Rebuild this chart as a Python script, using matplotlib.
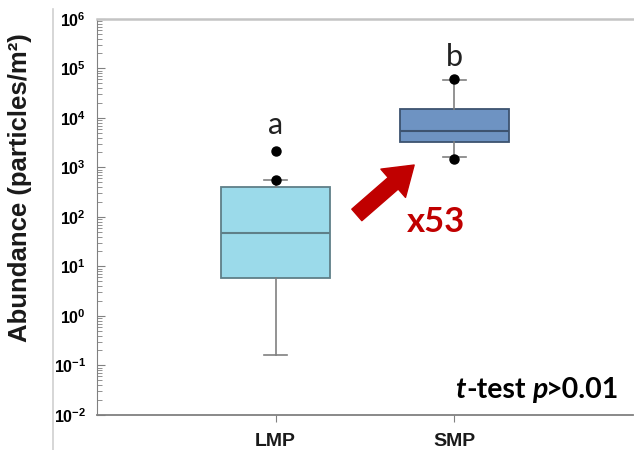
import matplotlib
matplotlib.use("Agg")
import matplotlib.pyplot as plt
from matplotlib.lines import Line2D
import numpy as np

plt.rcParams['font.family'] = ['Liberation Sans', 'DejaVu Sans']
plt.rcParams['mathtext.fontset'] = 'custom'
plt.rcParams['mathtext.rm'] = 'Liberation Sans:bold'
plt.rcParams['mathtext.bf'] = 'Liberation Sans:bold'

# data (particles/m2)
groups = ['LMP', 'SMP']
q1 = [5.9, 3270]
median = [47.5, 5460]
q3 = [404, 15200]
whisk_lo = [0.163, 1630]
whisk_hi = [559, 58600]
fliers = [[2150, 559], [62000, 1500]]
letters = ['a', 'b']
letter_y = [7200, 170000]
exponents = [-2, -1, 0, 1, 2, 3, 4, 5, 6]

fill_cols = ['#9bdaea', '#6e93c2']
edge_cols = ['#5f7f88', '#3d5370']

fig = plt.figure(figsize=(6.34, 4.5), dpi=100)
ax = fig.add_axes([0.153, 0.078, 0.845, 0.88])

stats = []
for i in range(len(groups)):
    stats.append(dict(label=groups[i], q1=q1[i], med=median[i], q3=q3[i],
                      whislo=whisk_lo[i], whishi=whisk_hi[i], fliers=fliers[i]))

pos = [1, 2]
bp = ax.bxp(stats, positions=pos, widths=0.61, patch_artist=True,
            showfliers=True,
            whiskerprops=dict(color='#808080', lw=1.2),
            capprops=dict(color='#808080', lw=1.2),
            flierprops=dict(marker='o', markerfacecolor='black',
                            markeredgecolor='black', markersize=6.5),
            medianprops=dict(lw=1.5))
for i, b in enumerate(bp['boxes']):
    b.set_facecolor(fill_cols[i])
    b.set_edgecolor(edge_cols[i])
    b.set_linewidth(1.3)
for i, m in enumerate(bp['medians']):
    m.set_color(edge_cols[i])
for c in bp['caps']:
    xd = c.get_xdata()
    mid = (xd[0] + xd[1]) / 2
    c.set_xdata([mid - 0.065, mid + 0.065])

ax.set_yscale('log')
ax.set_ylim(10.0 ** exponents[0], 10.0 ** exponents[-1])
ax.set_xlim(0, 3)
ax.set_yticks([10.0 ** e for e in exponents])
ax.set_yticklabels([r'$\mathbf{10^{%d}}$' % e for e in exponents], fontsize=11.5)
ax.yaxis.set_minor_locator(matplotlib.ticker.LogLocator(base=10, subs=np.arange(2, 10)))
ax.yaxis.set_minor_formatter(matplotlib.ticker.NullFormatter())
ax.tick_params(axis='y', which='major', direction='in', length=6, color='#808080', pad=8)
ax.tick_params(axis='y', which='minor', direction='in', length=3.5, color='#808080')
ax.set_xticks(pos)
ax.set_xticklabels(groups, fontsize=14, fontweight='bold', color='#1a1a1a')
ax.tick_params(axis='x', direction='out', length=5, color='#808080', pad=8)

ax.spines['right'].set_visible(False)
ax.spines['left'].set_color('#808080')
ax.spines['bottom'].set_color('#808080')
ax.spines['bottom'].set_linewidth(1.3)
ax.spines['top'].set_color('#c4c4c4')
ax.spines['top'].set_linewidth(1.8)

ax.set_ylabel('Abundance (particles/m²)', fontsize=18.5, fontweight='bold', color='#1a1a1a')
ax.yaxis.set_label_coords(-0.121, 0.573)

for i in range(len(groups)):
    ax.text(pos[i], letter_y[i], letters[i], fontsize=22, ha='center', va='center',
            family=['Lato', 'DejaVu Sans'], color='#222222')

# red arrow and fold change
ax.annotate('', xy=(0.592, 0.631), xytext=(0.485, 0.505), xycoords='axes fraction',
            arrowprops=dict(arrowstyle='simple,tail_width=0.55,head_width=1.35,head_length=1.0',
                            mutation_scale=20, color='#c00000', shrinkA=0, shrinkB=0))
ax.text(0.632, 0.487, 'x53', transform=ax.transAxes, fontsize=25, fontweight='bold',
        color='#c00000', ha='center', va='center', family=['Lato', 'DejaVu Sans'])

# t-test note in pieces (italic / normal)
pieces = [('t', 'italic', 0), ('-test', 'normal', 0.5), ('p', 'italic', 5), ('>0.01', 'normal', -1)]
prev = None
for txt, sty, gap in pieces:
    if prev is None:
        prev = ax.text(0.668, 0.03, txt, transform=ax.transAxes, fontsize=20.5,
                       fontweight='bold', fontstyle=sty, ha='left', va='bottom',
                       family=['Lato', 'DejaVu Sans'])
    else:
        prev = ax.annotate(txt, xy=(1, 0), xycoords=prev, xytext=(gap, 0),
                           textcoords='offset points', fontsize=20.5, fontweight='bold',
                           fontstyle=sty, ha='left', va='bottom',
                           family=['Lato', 'DejaVu Sans'])

# slide border line left of the chart
fig.add_artist(Line2D([0.084, 0.084], [0.0, 0.98], transform=fig.transFigure,
                      color='#d0d0d0', lw=1.2))

fig.savefig('out.png', dpi=100)
